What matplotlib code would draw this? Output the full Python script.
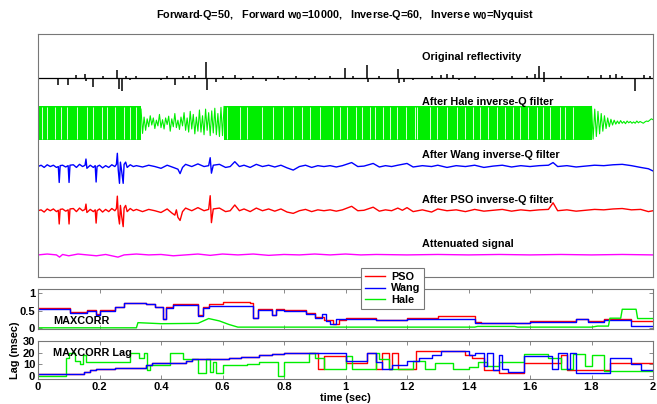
import numpy as np
import matplotlib
matplotlib.use("Agg")
import matplotlib.pyplot as plt
from matplotlib.lines import Line2D

plt.rcParams['font.family'] = ['Liberation Sans', 'DejaVu Sans']
plt.rcParams['font.weight'] = 'bold'

# ---------------- data ----------------
title_text = r"Forward-Q=50,   Forward w$_\mathbf{0}$=10000,   Inverse-Q=60,   Inverse w$_\mathbf{0}$=Nyquist"
trace_labels = ["Original reflectivity", "After Hale inverse-Q filter",
                "After Wang inverse-Q filter", "After PSO inverse-Q filter",
                "Attenuated signal"]
trace_offsets = [4, 3, 2, 1, 0]

# original reflectivity spikes (time s, amplitude)
refl_t = [0.066, 0.098, 0.125, 0.153, 0.155, 0.180, 0.21, 0.256, 0.262, 0.273, 0.285, 0.30, 0.32,
          0.40, 0.42, 0.446, 0.47, 0.49, 0.51, 0.546, 0.55, 0.58, 0.60, 0.64, 0.66, 0.70, 0.74,
          0.78, 0.80, 0.84, 0.88, 0.90, 0.95, 0.998, 1.025, 1.069, 1.072, 1.11, 1.172, 1.175,
          1.19, 1.22, 1.28, 1.31, 1.33, 1.35, 1.37, 1.42, 1.48, 1.54, 1.59, 1.617, 1.628, 1.644,
          1.647, 1.70, 1.79, 1.83, 1.86, 1.88, 1.90, 1.94, 1.97, 1.99]
refl_a = [-0.16, -0.16, 0.07, 0.09, -0.07, -0.20, 0.05, 0.18, -0.25, -0.30, 0.05, -0.05, 0.04,
          -0.05, 0.05, -0.16, 0.05, 0.06, 0.07, 0.36, -0.27, -0.08, 0.06, 0.07, -0.05, 0.06, -0.06,
          0.05, -0.05, 0.05, -0.04, 0.04, 0.05, 0.23, 0.06, 0.30, -0.08, 0.05, 0.20, -0.12,
          -0.08, -0.05, 0.06, 0.07, 0.10, 0.08, -0.05, 0.05, -0.05, 0.06, 0.06, 0.10, 0.27, 0.15,
          -0.08, 0.05, 0.05, 0.07, 0.08, 0.10, 0.06, -0.30, 0.08, 0.05]

# Hale: saturated bands, their white gaps, and the noisy parts
hale_band_start = [0.0, 0.605]
hale_band_end = [0.335, 1.80]
hale_band_top = 0.36
hale_band_bottom = -0.39
hale_gaps = [0.012, 0.029, 0.055, 0.075, 0.094, 0.127, 0.16, 0.18, 0.207, 0.225, 0.25, 0.28,
             0.30, 0.32, 0.615, 0.657, 0.68, 0.73, 0.765, 0.797, 0.83, 0.858, 0.885, 0.917,
             0.96, 0.982, 1.005, 1.034, 1.054, 1.08, 1.096, 1.122, 1.145, 1.167, 1.197, 1.226,
             1.233, 1.275, 1.298, 1.33, 1.363, 1.39, 1.415, 1.437, 1.463, 1.493, 1.519, 1.545,
             1.567, 1.593, 1.623, 1.642, 1.665, 1.698, 1.714, 1.74]
hale_mid = [0.30, -0.25, 0.12, -0.18, 0.08, -0.10, 0.15, -0.06, 0.10, -0.14, 0.05, -0.08, 0.18,
            -0.12, 0.06, -0.15, 0.10, -0.05, 0.14, -0.20, 0.08, -0.10, 0.20, -0.12, 0.05, -0.16,
            0.12, -0.08, 0.22, -0.18, 0.10, -0.22, 0.25, -0.15, 0.18, -0.26, 0.12, -0.20, 0.28,
            -0.22, 0.15, -0.28, 0.30, -0.18, 0.22, -0.30, 0.26, -0.24, 0.32, -0.28, 0.20, -0.32,
            0.34, -0.30, 0.36]
hale_tail = [0.36, -0.38, 0.30, -0.32, 0.25, -0.26, 0.20, -0.20, 0.15, -0.14, 0.10, -0.10, 0.07,
             -0.06, 0.05, -0.04, 0.03, -0.03, 0.04, -0.02, 0.02, -0.03, 0.03, -0.01, 0.02, -0.02,
             0.01, -0.02, 0.03, -0.01, 0.02, 0.0, -0.02, 0.01, 0.03, 0.02, 0.05, 0.08, 0.06]

wang_pts = [(0, 0), (0.01, 0.03), (0.02, -0.02), (0.03, 0.04), (0.04, 0.0), (0.05, 0.03), (0.06, -0.02),
            (0.066, 0.0), (0.069, -0.36), (0.072, 0.02), (0.08, 0.03), (0.09, -0.01), (0.098, 0.02),
            (0.101, -0.36), (0.104, 0.03), (0.115, 0.04), (0.125, -0.02), (0.135, 0.05), (0.145, 0.0),
            (0.153, 0.03), (0.156, 0.17), (0.159, -0.04), (0.17, 0.03), (0.18, -0.02), (0.186, 0.02),
            (0.189, -0.35), (0.192, 0.0), (0.2, 0.03), (0.21, -0.03), (0.22, 0.02), (0.23, -0.02),
            (0.24, 0.04), (0.25, 0.0), (0.255, 0.05), (0.258, 0.30), (0.261, -0.08), (0.265, -0.38),
            (0.268, 0.10), (0.272, -0.10), (0.277, -0.38), (0.28, 0.05), (0.285, 0.10), (0.29, -0.02),
            (0.3, 0.04), (0.31, 0.0), (0.32, 0.02), (0.34, -0.01), (0.36, 0.03), (0.38, 0.0),
            (0.4, -0.04), (0.42, 0.03), (0.44, -0.02), (0.455, -0.06), (0.462, -0.16), (0.47, -0.02),
            (0.48, 0.05), (0.5, 0.0), (0.52, 0.06), (0.54, 0.0), (0.555, 0.02), (0.56, 0.20),
            (0.564, -0.15), (0.57, 0.03), (0.59, 0.05), (0.61, -0.02), (0.625, 0.0), (0.64, 0.11),
            (0.655, 0.0), (0.67, 0.03), (0.69, -0.02), (0.71, 0.05), (0.73, 0.0), (0.75, 0.03),
            (0.77, -0.01), (0.79, 0.03), (0.81, -0.03), (0.83, -0.08), (0.85, 0.0), (0.87, 0.03),
            (0.89, -0.02), (0.91, 0.02), (0.93, 0.0), (0.95, 0.02), (0.97, -0.01), (0.99, 0.02),
            (1.02, 0.09), (1.04, 0.0), (1.06, 0.01), (1.09, 0.07), (1.11, -0.01), (1.13, 0.02),
            (1.15, 0.0), (1.17, 0.03), (1.2, 0.07), (1.22, -0.01), (1.25, 0.02), (1.28, 0.0),
            (1.3, 0.03), (1.33, -0.02), (1.36, 0.02), (1.39, 0.0), (1.42, 0.03), (1.45, -0.02),
            (1.48, 0.01), (1.51, 0.03), (1.54, -0.01), (1.57, 0.02), (1.6, 0.0), (1.63, 0.02),
            (1.66, 0.03), (1.675, 0.09), (1.69, 0.0), (1.72, 0.02), (1.75, -0.01), (1.78, 0.01),
            (1.81, 0.03), (1.84, 0.02), (1.87, 0.04), (1.9, 0.05), (1.93, 0.02), (1.96, -0.02),
            (1.985, -0.05), (2.0, -0.10)]

pso_pts = [(0, 0), (0.01, 0.02), (0.02, -0.03), (0.03, 0.04), (0.04, 0.0), (0.05, 0.04), (0.06, -0.02),
           (0.066, 0.01), (0.069, -0.30), (0.072, 0.03), (0.08, 0.04), (0.09, -0.01), (0.098, 0.02),
           (0.101, -0.30), (0.104, 0.04), (0.115, 0.05), (0.125, -0.02), (0.135, 0.06), (0.145, 0.0),
           (0.153, 0.03), (0.156, 0.15), (0.159, -0.04), (0.17, 0.03), (0.18, -0.02), (0.186, 0.02),
           (0.189, -0.28), (0.192, 0.0), (0.2, 0.04), (0.21, -0.03), (0.22, 0.03), (0.23, -0.02),
           (0.24, 0.05), (0.25, 0.0), (0.255, 0.05), (0.258, 0.33), (0.261, -0.10), (0.265, -0.30),
           (0.268, 0.12), (0.272, -0.12), (0.277, -0.36), (0.28, 0.06), (0.285, 0.12), (0.29, -0.02),
           (0.3, 0.05), (0.31, 0.0), (0.32, 0.03), (0.34, -0.02), (0.36, 0.03), (0.38, 0.0),
           (0.4, -0.04), (0.42, 0.04), (0.435, -0.05), (0.445, -0.10), (0.45, 0.02), (0.455, -0.15),
           (0.462, -0.22), (0.47, -0.02), (0.48, 0.06), (0.5, 0.0), (0.52, 0.07), (0.54, 0.0),
           (0.555, 0.03), (0.56, 0.34), (0.564, -0.27), (0.57, 0.04), (0.59, 0.06), (0.61, -0.02),
           (0.625, 0.0), (0.64, 0.13), (0.655, 0.0), (0.67, 0.04), (0.69, -0.02), (0.71, 0.06),
           (0.73, 0.0), (0.75, 0.04), (0.77, -0.01), (0.79, 0.04), (0.81, -0.03), (0.83, -0.06),
           (0.85, 0.0), (0.87, 0.03), (0.89, -0.02), (0.91, 0.02), (0.93, 0.0), (0.95, 0.02),
           (0.97, -0.01), (0.99, 0.02), (1.02, 0.10), (1.04, 0.0), (1.06, 0.01), (1.09, 0.08),
           (1.11, -0.01), (1.13, 0.02), (1.15, 0.0), (1.17, 0.06), (1.185, 0.01), (1.2, 0.07),
           (1.22, -0.02), (1.25, 0.02), (1.28, -0.03), (1.3, 0.04), (1.33, 0.0), (1.36, 0.02),
           (1.39, -0.02), (1.42, 0.03), (1.45, -0.01), (1.48, 0.01), (1.51, 0.03), (1.54, -0.01),
           (1.57, 0.02), (1.6, 0.0), (1.63, 0.02), (1.66, 0.03), (1.675, 0.18), (1.69, 0.0),
           (1.72, 0.02), (1.75, -0.01), (1.78, 0.01), (1.81, 0.03), (1.84, 0.02), (1.87, 0.04),
           (1.9, 0.05), (1.93, 0.02), (1.96, 0.03), (1.985, -0.02), (2.0, 0.0)]

atten_pts = [(0, 0), (0.03, 0.02), (0.06, 0.0), (0.07, -0.05), (0.08, 0.01), (0.1, -0.02), (0.13, 0.02),
             (0.16, 0.0), (0.19, -0.02), (0.22, 0.01), (0.26, -0.05), (0.28, 0.0), (0.32, 0.02),
             (0.36, 0.0), (0.4, 0.01), (0.44, -0.02), (0.48, 0.0), (0.52, 0.02), (0.56, -0.01),
             (0.6, 0.02), (0.65, 0.0), (0.7, 0.02), (0.75, -0.01), (0.8, 0.01), (0.85, 0.0),
             (0.9, 0.02), (0.95, 0.0), (1.0, 0.02), (1.05, 0.0), (1.1, 0.01), (1.2, 0.0), (1.3, 0.01),
             (1.4, 0.0), (1.5, 0.01), (1.6, 0.0), (1.7, 0.01), (1.8, 0.0), (1.9, 0.01), (2.0, 0.0)]

# MAXCORR (step series)
mc_pso_t = [0, 0.105, 0.16, 0.19, 0.2, 0.25, 0.28, 0.35, 0.38, 0.405, 0.415, 0.44, 0.52, 0.535, 0.555,
            0.6, 0.69, 0.70, 0.715, 0.76, 0.775, 0.8, 0.87, 0.9, 0.93, 0.96, 0.98, 1.0, 1.1, 1.2,
            1.3, 1.42, 1.44, 1.6, 1.75, 1.79, 1.84, 1.93, 2.0]
mc_pso_v = [0.58, 0.47, 0.52, 0.40, 0.52, 0.62, 0.73, 0.70, 0.62, 0.27, 0.60, 0.68, 0.36, 0.60, 0.68,
            0.75, 0.72, 0.30, 0.55, 0.38, 0.55, 0.52, 0.42, 0.32, 0.22, 0.12, 0.22, 0.28, 0.24, 0.28,
            0.33, 0.17, 0.15, 0.20, 0.27, 0.20, 0.25, 0.20, 0.20]
mc_wang_t = [0, 0.105, 0.16, 0.19, 0.2, 0.25, 0.28, 0.35, 0.38, 0.405, 0.415, 0.44, 0.52, 0.535, 0.555,
             0.69, 0.70, 0.715, 0.76, 0.775, 0.8, 0.87, 0.9, 0.925, 0.935, 0.95, 0.97, 1.0, 1.1, 1.2,
             1.3, 1.42, 1.44, 1.6, 1.75, 1.79, 1.84, 1.93, 2.0]
mc_wang_v = [0.56, 0.44, 0.50, 0.36, 0.50, 0.60, 0.72, 0.68, 0.60, 0.25, 0.58, 0.65, 0.35, 0.58, 0.64,
             0.64, 0.28, 0.53, 0.37, 0.53, 0.50, 0.40, 0.30, 0.39, 0.20, 0.12, 0.25, 0.25, 0.22, 0.25,
             0.27, 0.15, 0.13, 0.17, 0.26, 0.18, 0.22, 0.05, 0.05]
mc_hale_t = [0, 0.32, 0.325, 0.40, 0.52, 0.555, 0.59, 0.62, 0.65, 1.42, 1.43, 1.55, 1.56, 1.80, 1.82,
             1.855, 1.86, 1.895, 1.90, 1.945, 1.95, 2.0]
mc_hale_v = [0.0, 0.0, 0.15, 0.12, 0.13, 0.27, 0.20, 0.10, 0.02, 0.02, 0.04, 0.04, 0.02, 0.02, 0.05,
             0.05, 0.28, 0.28, 0.54, 0.54, 0.27, 0.27]

# MAXCORR lag (msec, step series)
lag_wang_t = [0, 0.15, 0.17, 0.19, 0.25, 0.35, 0.37, 0.48, 0.50, 0.62, 0.66, 0.72, 0.76, 0.80, 0.85,
              1.0, 1.07, 1.10, 1.12, 1.15, 1.20, 1.24, 1.28, 1.31, 1.40, 1.42, 1.45, 1.46, 1.48, 1.50,
              1.51, 1.53, 1.58, 1.67, 1.69, 1.72, 1.73, 1.75, 1.86, 1.93, 1.96, 2.0]
lag_wang_v = [1.5, 3, 4.5, 5.5, 6.5, 9, 10.5, 12.5, 14, 15, 16, 17.5, 18.5, 19.5, 20,
              12.5, 20, 12, 6, 9, 13, 15, 18, 21, 18, 20, 8, 20, 5, 18,
              6, 3, 17, 6, 20, 6, 20, 2, 15, 10, 5, 5]
lag_pso_t = [0, 0.15, 0.17, 0.19, 0.25, 0.35, 0.37, 0.48, 0.50, 0.62, 0.66, 0.72, 0.76, 0.80, 0.85,
             0.91, 0.93, 1.0, 1.07, 1.10, 1.12, 1.14, 1.15, 1.17, 1.23, 1.39, 1.41, 1.45, 1.50, 1.58,
             1.70, 1.72, 1.86, 2.0]
lag_pso_v = [1.5, 3, 4.5, 5.5, 6.5, 9, 10.5, 12.5, 14.5, 15, 16, 17.5, 18.5, 19.5, 20,
             6, 17, 11, 20, 6, 20, 6, 20, 6, 21, 18, 15, 5, 2, 11,
             18, 5, 11, 11]
lag_hale_t = [0, 0.09, 0.10, 0.12, 0.135, 0.145, 0.155, 0.30, 0.33, 0.345, 0.355, 0.365, 0.43, 0.47,
              0.52, 0.545, 0.56, 0.57, 0.58, 0.60, 0.68, 0.72, 0.78, 0.80, 0.88, 0.90, 0.93, 1.0,
              1.02, 1.10, 1.11, 1.14, 1.22, 1.26, 1.29, 1.35, 1.40, 1.43, 1.46, 1.50, 1.58, 1.66,
              1.70, 1.74, 1.78, 1.80, 1.84, 2.0]
lag_hale_v = [0, 15, 20, 13, 10, 18, 12, 20, 15, 20, 5, 9, 20, 14,
              2, 14, 3, 12, 2, 9, 10, 12, 0, 12, 20, 15, 6, 17,
              6, 20, 14, 6, 13, 6, 11, 6, 7, 12, 8, 12, 19, 15,
              6, 19, 8, 18, 4, 4]

x_ticks = [0, 0.2, 0.4, 0.6, 0.8, 1, 1.2, 1.4, 1.6, 1.8, 2]
x_ticklabels = ["0", "0.2", "0.4", "0.6", "0.8", "1", "1.2", "1.4", "1.6", "1.8", "2"]
mc_ticks = [0, 0.5, 1]
mc_ticklabels = ["0", "0.5", "1"]
lag_ticks = [0, 10, 20, 30]

# ---------------- styling ----------------
W, H = 657, 404
fig = plt.figure(figsize=(W / 100, H / 100), dpi=100)
GREEN = '#00EE00'
MAG = '#FF00FF'
FRAME = '#777777'


def fig_rect(x0, y0, x1, y1):
    return [x0 / W, 1 - y1 / H, (x1 - x0) / W, (y1 - y0) / H]


ax_top = fig.add_axes(fig_rect(38, 34, 653, 277))
ax_mc = fig.add_axes(fig_rect(38, 289, 653, 328.5))
ax_lag = fig.add_axes(fig_rect(38, 341, 653, 379))

for ax in (ax_top, ax_mc, ax_lag):
    for s in ax.spines.values():
        s.set_color(FRAME)
        s.set_linewidth(0.8)
    ax.set_xlim(0, 2)

# top panel
ax_top.set_ylim(-0.5, 5)
ax_top.set_xticks([])
ax_top.set_yticks([])
# reflectivity
o = trace_offsets[0]
ax_top.plot([0, 2], [o, o], color='black', lw=0.9)
ax_top.vlines(refl_t, o, [o + a for a in refl_a], color='black', lw=1.1)
# Hale
o = trace_offsets[1]
for s0, s1 in zip(hale_band_start, hale_band_end):
    ax_top.fill_between([s0, s1], o + hale_band_bottom, o + hale_band_top, color=GREEN, lw=0)
ax_top.vlines(hale_gaps, o + hale_band_bottom + 0.02, o + hale_band_top - 0.02, color='white', lw=0.6)
tm = np.linspace(0.335, 0.605, len(hale_mid))
ax_top.plot(tm, [o + v for v in hale_mid], color=GREEN, lw=0.8)
tt = np.linspace(1.80, 2.0, len(hale_tail))
ax_top.plot(tt, [o + v for v in hale_tail], color=GREEN, lw=0.8)
# Wang, PSO, attenuated
for pts, off, col in ((wang_pts, trace_offsets[2], 'blue'),
                      (pso_pts, trace_offsets[3], 'red'),
                      (atten_pts, trace_offsets[4], MAG)):
    ax_top.plot([p[0] for p in pts], [off + p[1] for p in pts], color=col, lw=1.0)

label_y = [4.48, 3.46, 2.26, 1.24, 0.25]
for lab, y in zip(trace_labels, label_y):
    ax_top.text(1.25, y, lab, fontsize=7.8, fontweight='bold', ha='left', va='center')

# MAXCORR panel
ax_mc.step(mc_pso_t, mc_pso_v, where='post', color='red', lw=1.0)
ax_mc.step(mc_wang_t, mc_wang_v, where='post', color='blue', lw=1.0)
ax_mc.plot(mc_hale_t, mc_hale_v, color=GREEN, lw=1.0)
ax_mc.set_ylim(-0.02, 1.13)
ax_mc.set_yticks(mc_ticks)
ax_mc.set_yticklabels(mc_ticklabels)
ax_mc.set_xticks(x_ticks)
ax_mc.set_xticklabels([])
ax_mc.text(0.05, 0.2, "MAXCORR", fontsize=7.8, fontweight='bold', ha='left', va='center')

# Lag panel
ax_lag.step(lag_pso_t, lag_pso_v, where='post', color='red', lw=1.0)
ax_lag.step(lag_hale_t, lag_hale_v, where='post', color=GREEN, lw=1.0)
ax_lag.step(lag_wang_t, lag_wang_v, where='post', color='blue', lw=1.0)
ax_lag.set_ylim(-3, 30)
ax_lag.set_yticks(lag_ticks)
ax_lag.set_xticks(x_ticks)
ax_lag.set_xticklabels(x_ticklabels)
ax_lag.text(0.05, 20, "MAXCORR Lag", fontsize=7.8, fontweight='bold', ha='left', va='center')
ax_lag.set_xlabel("time (sec)", fontsize=7.8, fontweight='bold', labelpad=1)

for ax in (ax_mc, ax_lag):
    ax.tick_params(direction='in', top=True, right=True, length=3, width=0.6, color=FRAME,
                   labelsize=8, pad=2)

fig.text(15 / W, 1 - 350 / H, "Lag (msec)", rotation=90, fontsize=7.8, fontweight='bold',
         ha='center', va='center')

fig.text(345 / W, 1 - 15 / H, title_text, fontsize=7.8, fontweight='bold', ha='center', va='center')

handles = [Line2D([], [], color='red', lw=1.0), Line2D([], [], color='blue', lw=1.0),
           Line2D([], [], color=GREEN, lw=1.0)]
leg = fig.legend(handles, ["PSO", "Wang", "Hale"], loc='upper left',
                 bbox_to_anchor=(361 / W, 1 - 268 / H), fontsize=7.8, frameon=True, fancybox=False,
                 edgecolor=FRAME, framealpha=1, borderpad=0.35, labelspacing=0.15, handlelength=1.9,
                 handletextpad=0.5, borderaxespad=0)
leg.get_frame().set_linewidth(0.8)

fig.savefig("out.png", dpi=100)
